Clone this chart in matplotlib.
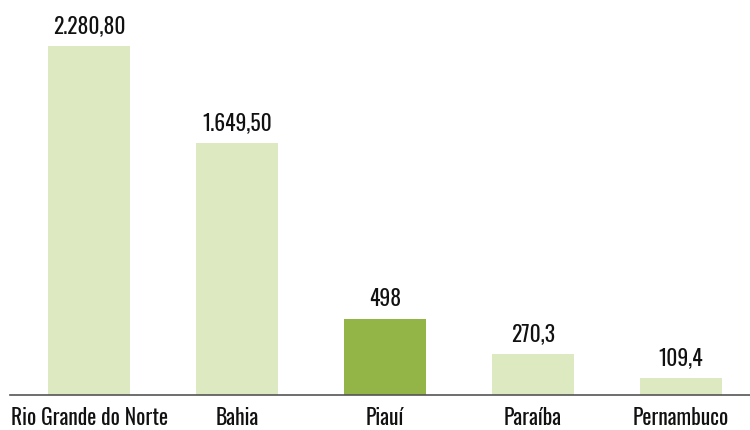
import matplotlib
matplotlib.use("Agg")
import matplotlib.pyplot as plt
from matplotlib import font_manager

categories = ["Rio Grande do Norte", "Bahia", "Piauí", "Paraíba", "Pernambuco"]
values = [2280.80, 1649.50, 498, 270.3, 109.4]
value_labels = ["2.280,80", "1.649,50", "498", "270,3", "109,4"]
highlight = "Piauí"

names = {f.name for f in font_manager.fontManager.ttflist}
fam = "Oswald" if "Oswald" in names else "DejaVu Sans"
plt.rcParams["font.family"] = [fam, "DejaVu Sans"]

fig = plt.figure(figsize=(7.5, 4.31), dpi=100)
ax = fig.add_axes([10/750, 35/431, 740/750, 396/431])

light = "#dde9c0"
dark = "#93b447"
colors = [dark if c == highlight else light for c in categories]
x = list(range(len(categories)))
ax.bar(x, values, width=0.554, color=colors, zorder=2)

for xi, v, lab in zip(x, values, value_labels):
    ax.annotate(lab, (xi, v), xytext=(0, 7), textcoords="offset points",
                ha="center", va="bottom", fontsize=15.5, color="#111111")

ax.set_xlim(-0.534, 4.466)
ax.set_ylim(0, 2590)
ax.set_xticks(x)
ax.set_xticklabels(categories, fontsize=15.5, color="#111111")
ax.tick_params(axis="x", length=0, pad=8)
ax.set_yticks([])
for s in ["top", "right", "left"]:
    ax.spines[s].set_visible(False)
ax.spines["bottom"].set_color("#555555")
ax.spines["bottom"].set_linewidth(1.2)
ax.spines["bottom"].set_zorder(3)

fig.savefig("out.png", dpi=100)
